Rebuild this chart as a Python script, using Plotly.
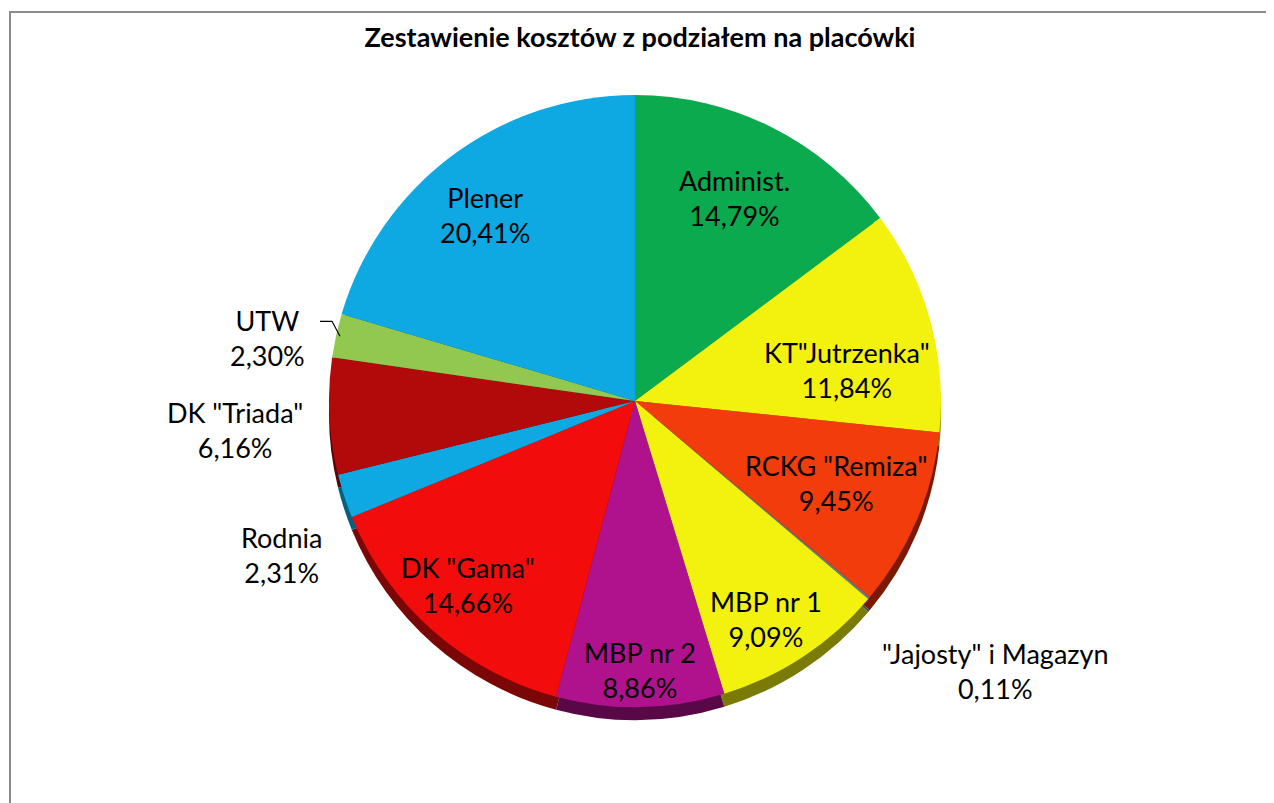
import math
import plotly.graph_objects as go

labels = ['Administ.', 'KT"Jutrzenka"', 'RCKG "Remiza"', '"Jajosty" i Magazyn', 'MBP nr 1',
          'MBP nr 2', 'DK "Gama"', 'Rodnia', 'DK "Triada"', 'UTW', 'Plener']
values = [14.79, 11.84, 9.45, 0.11, 9.09, 8.86, 14.66, 2.31, 6.16, 2.30, 20.41]
colors = ['#0BAA4E', '#F2F20E', '#F23C0C', '#5A7E92', '#F2F20E',
          '#B0128E', '#F20C0C', '#0EA8E2', '#B20A0A', '#92C850', '#0EA8E2']
side_colors = ['#066030', '#7A7A06', '#7A1A05', '#3A5060', '#7A7A06',
               '#580846', '#7A0606', '#08607E', '#5A0505', '#4E7028', '#08607E']
# label placement (style): radius as fraction of pie radius, angular nudge in degrees
label_radius = [0.74, 0.70, 0.71, 1.47, 0.83, 0.88, 0.81, 1.26, 1.31, 1.22, 0.78]
label_nudge = [-0.5, 7.0, -0.6, -3.3, 2.4, 0.0, 0.9, -5.4, -1.3, -2.6, -2.2]
leader_for = ['UTW']
title = 'Zestawienie kosztów z podziałem na placówki'

W, H = 1274, 803
OFF = 8  # page body margin offset
cx, cy, r = 635 - OFF, 401 - OFF, 306
depth = 13
FONT = 'Lato'

def dom(offset):
    return dict(x=[(cx - r) / W, (cx + r) / W],
                y=[1 - (cy + r + offset) / H, 1 - (cy - r + offset) / H])

def px(x, y):
    return x / W, 1 - y / H

fig = go.Figure()
fig.add_trace(go.Pie(labels=labels, values=values, sort=False, direction='clockwise',
                     rotation=0, domain=dom(depth), textinfo='none', hoverinfo='skip',
                     marker=dict(colors=side_colors, line=dict(width=0)),
                     showlegend=False))
fig.add_trace(go.Pie(labels=labels, values=values, sort=False, direction='clockwise',
                     rotation=0, domain=dom(0), textinfo='none',
                     hovertemplate='%{label}<br>%{percent:.2%}<extra></extra>',
                     marker=dict(colors=colors, line=dict(width=0)),
                     showlegend=False))

total = sum(values)
annotations = []
shapes = [dict(type='rect', xref='paper', yref='paper',
               x0=(10 - OFF) / W, x1=(1273 - OFF) / W, y0=-0.05, y1=1 - (12 - OFF) / H,
               line=dict(color='#8C8C8C', width=2), layer='below')]
cum = 0.0
for lab, v, rf, nd in zip(labels, values, label_radius, label_nudge):
    mid = (cum + v / 2) / total * 360.0
    cum += v
    th = math.radians(mid + nd)
    x = cx + rf * r * math.sin(th)
    y = cy - rf * r * math.cos(th)
    pct = f'{v / total * 100:.2f}'.replace('.', ',') + '%'
    ax, ay = px(x, y)
    annotations.append(dict(x=ax, y=ay, xref='paper', yref='paper', showarrow=False,
                            text=f'{lab}<br>{pct}', xanchor='center', yanchor='middle',
                            font=dict(family=FONT, size=27, color='black')))
    if lab in leader_for:
        t0 = math.radians(mid)
        ex, ey = cx + (r - 4) * math.sin(t0), cy - (r - 4) * math.cos(t0)
        kx, ky = ex - 8, ey - 15
        hx = kx - 12
        shapes.append(dict(type='path', xref='paper', yref='paper',
                           path=f'M {hx / W},{1 - ky / H} L {kx / W},{1 - ky / H} L {ex / W},{1 - ey / H}',
                           line=dict(color='black', width=1.2)))

fig.update_layout(
    width=W, height=H, margin=dict(l=0, r=0, t=0, b=0),
    paper_bgcolor='white', plot_bgcolor='white',
    separators=', ',
    title=dict(text='<b>' + title + '</b>', x=(640 - OFF) / W, xanchor='center',
               y=1 - (38 - OFF) / H, yanchor='middle',
               font=dict(family=FONT, size=27, color='black')),
    annotations=annotations,
    shapes=shapes,
)
fig.write_html('out.html')
